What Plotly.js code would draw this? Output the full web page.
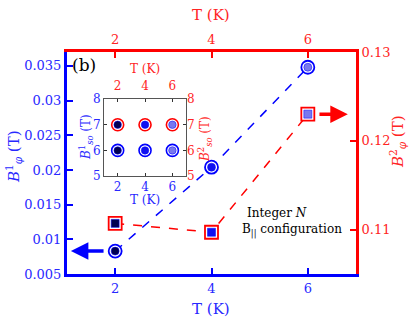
<!DOCTYPE html>
<html>
<head>
<meta charset="utf-8">
<script src="https://cdn.plot.ly/plotly-3.0.1.min.js"></script>
<style>html,body{margin:0;padding:0;background:#fff;}#plot{width:414px;height:327px;}</style>
</head>
<body>
<div id="plot"></div>
<script>
// Data
var T = [2, 4, 6];
var B1phi = [0.0083, 0.0204, 0.0348];
var B2phi = [0.1107, 0.1097, 0.1230];
var insetT = [2, 4, 6];
var B1so = [6, 6, 6];
var B2so = [7, 7, 7];
var fillColors = ['#000050', '#1010f0', '#7878ee'];
var xTicks = [2, 4, 6];
var y1Ticks = [0.005, 0.01, 0.015, 0.02, 0.025, 0.03, 0.035];
var y1Text = ['0.005', '0.01', '0.015', '0.02', '0.025', '0.03', '0.035'];
var y2Ticks = [0.11, 0.12, 0.13];
var y2Text = ['0.11', '0.12', '0.13'];
var insetYTicks = [5, 6, 7, 8];

var BLUE = '#0000ff', RED = '#ff0000';
var TXTB = '#2828ff', TXTR = '#ff2424';
var FONT = 'DejaVu Serif';

var traces = [
  {x: T, y: B1phi, xaxis: 'x', yaxis: 'y', mode: 'lines', line: {color: BLUE, dash: 'dash', width: 1.5}, hoverinfo: 'skip'},
  {x: T, y: B2phi, xaxis: 'x', yaxis: 'y2', mode: 'lines', line: {color: RED, dash: 'dash', width: 1.5}, hoverinfo: 'skip'},
  {x: T, y: B1phi, xaxis: 'x', yaxis: 'y', mode: 'markers', marker: {symbol: 'circle', size: 13, color: '#fff', line: {color: BLUE, width: 1.8}}},
  {x: T, y: B1phi, xaxis: 'x', yaxis: 'y', mode: 'markers', marker: {symbol: 'circle', size: 8, color: fillColors, line: {color: BLUE, width: 0.5}}},
  {x: T, y: B2phi, xaxis: 'x', yaxis: 'y2', mode: 'markers', marker: {symbol: 'square', size: 13, color: '#fff', line: {color: RED, width: 1.8}}},
  {x: T, y: B2phi, xaxis: 'x', yaxis: 'y2', mode: 'markers', marker: {symbol: 'square', size: 8, color: fillColors, line: {color: BLUE, width: 0.5}}},
  // invisible traces so the top axes (x2, x4) and right inset axis (y4) are drawn
  {x: T, y: B1phi, xaxis: 'x2', yaxis: 'y', mode: 'markers', marker: {size: 1, opacity: 0}, hoverinfo: 'skip'},
  {x: insetT, y: B1so, xaxis: 'x4', yaxis: 'y4', mode: 'markers', marker: {size: 1, opacity: 0}, hoverinfo: 'skip'},
  {x: insetT, y: B2so, xaxis: 'x3', yaxis: 'y3', mode: 'markers', marker: {symbol: 'circle', size: 12, color: '#fff', line: {color: RED, width: 1.6}}},
  {x: insetT, y: B2so, xaxis: 'x3', yaxis: 'y3', mode: 'markers', marker: {symbol: 'circle', size: 7.5, color: fillColors, line: {color: BLUE, width: 0.5}}},
  {x: insetT, y: B1so, xaxis: 'x3', yaxis: 'y3', mode: 'markers', marker: {symbol: 'circle', size: 12, color: '#fff', line: {color: BLUE, width: 1.6}}},
  {x: insetT, y: B1so, xaxis: 'x3', yaxis: 'y3', mode: 'markers', marker: {symbol: 'circle', size: 7.5, color: fillColors, line: {color: BLUE, width: 0.5}}}
];

function ax(extra) {
  var base = {showgrid: false, zeroline: false, ticks: 'inside', showline: true, fixedrange: true};
  for (var k in extra) base[k] = extra[k];
  return base;
}

function note(px, py, text, size, color, angle) {
  return {xref: 'paper', yref: 'paper', x: (px - 67) / 289, y: (274 - py) / 222, xanchor: 'center', yanchor: 'middle',
    text: text, showarrow: false, textangle: angle || 0, font: {family: FONT, size: size, color: color}};
}

var layout = {
  width: 414, height: 327,
  margin: {l: 67, r: 58, t: 52, b: 53},
  paper_bgcolor: '#fff', plot_bgcolor: 'rgba(0,0,0,0)',
  showlegend: false,
  font: {family: FONT},
  xaxis: ax({range: [1, 7], tickvals: xTicks, ticklen: 6, tickwidth: 2, tickcolor: BLUE, linecolor: BLUE, linewidth: 3,
    tickfont: {family: FONT, size: 13, color: TXTB}, anchor: 'y', domain: [0, 1]}),
  xaxis2: ax({range: [1, 7], tickvals: xTicks, ticklen: 6, tickwidth: 2, tickcolor: RED, linecolor: RED, linewidth: 3,
    tickfont: {family: FONT, size: 13, color: TXTR}, overlaying: 'x', side: 'top', anchor: 'y'}),
  yaxis: ax({range: [0.005, 0.037], tickvals: y1Ticks, ticktext: y1Text, ticklen: 6, tickwidth: 2, tickcolor: BLUE, linecolor: BLUE, linewidth: 3,
    tickfont: {family: FONT, size: 13, color: TXTB}, anchor: 'x', domain: [0, 1]}),
  yaxis2: ax({range: [0.105, 0.13], tickvals: y2Ticks, ticktext: y2Text, ticklen: 6, tickwidth: 2, tickcolor: RED, linecolor: RED, linewidth: 3,
    tickfont: {family: FONT, size: 13, color: TXTR}, overlaying: 'y', side: 'right', anchor: 'x'}),
  xaxis3: ax({range: [1, 7], tickvals: xTicks, ticklen: 3, tickwidth: 1, tickcolor: '#333', linecolor: '#555', linewidth: 1, mirror: true,
    tickfont: {family: FONT, size: 12, color: TXTB}, anchor: 'y3', domain: [0.128, 0.412]}),
  xaxis4: ax({range: [1, 7], tickvals: xTicks, ticklen: 3, tickwidth: 1, tickcolor: '#333', showline: false, ticklabelstandoff: 6,
    tickfont: {family: FONT, size: 12, color: TXTR}, overlaying: 'x3', side: 'top', anchor: 'y3'}),
  yaxis3: ax({range: [5, 8], tickvals: insetYTicks, ticklen: 3, tickwidth: 1, tickcolor: '#333', linecolor: '#555', linewidth: 1, mirror: true,
    tickfont: {family: FONT, size: 12, color: TXTB}, anchor: 'x3', domain: [0.441, 0.788]}),
  yaxis4: ax({range: [5, 8], tickvals: insetYTicks, ticklen: 3, tickwidth: 1, tickcolor: '#333', showline: false,
    tickfont: {family: FONT, size: 12, color: TXTR}, overlaying: 'y3', side: 'right', anchor: 'x3'}),
  annotations: [
    note(211, 309, 'T (K)', 15, TXTB),
    note(211, 15, 'T (K)', 15, TXTR),
    note(13, 157, '<i>B</i><sup>1</sup><sub><i>φ</i></sub> (T)', 15, TXTB, -90),
    note(397, 142, '<i>B</i><sup>2</sup><sub><i>φ</i></sub> (T)', 15, TXTR, -90),
    note(84, 65, '(b)', 17, '#000'),
    note(277, 213, 'Integer <i>N</i>', 12, '#000'),
    note(292, 230, 'B<sub>||</sub> configuration', 12, '#000'),
    // inset titles
    note(145, 69, 'T (K)', 12, TXTR),
    note(145, 200, 'T (K)', 12, TXTB),
    note(86, 137, '<i>B</i><sup>1</sup><sub><i>so</i></sub> (T)', 12, TXTB, -90),
    note(205, 139, '<i>B</i><sup>2</sup><sub><i>so</i></sub> (T)', 12, TXTR, -90),
    // arrows
    {xref: 'x', yref: 'y', x: 1.08, y: B1phi[0], axref: 'x', ayref: 'y', ax: 1.79, ay: B1phi[0], text: '', showarrow: true, arrowhead: 2, arrowsize: 1, arrowwidth: 3.5, arrowcolor: BLUE},
    {xref: 'x', yref: 'y2', x: 6.83, y: B2phi[2], axref: 'x', ayref: 'y2', ax: 6.21, ay: B2phi[2], text: '', showarrow: true, arrowhead: 2, arrowsize: 1, arrowwidth: 3.5, arrowcolor: RED}
  ]
};

Plotly.newPlot('plot', traces, layout, {staticPlot: true, displayModeBar: false});
</script>
</body>
</html>
